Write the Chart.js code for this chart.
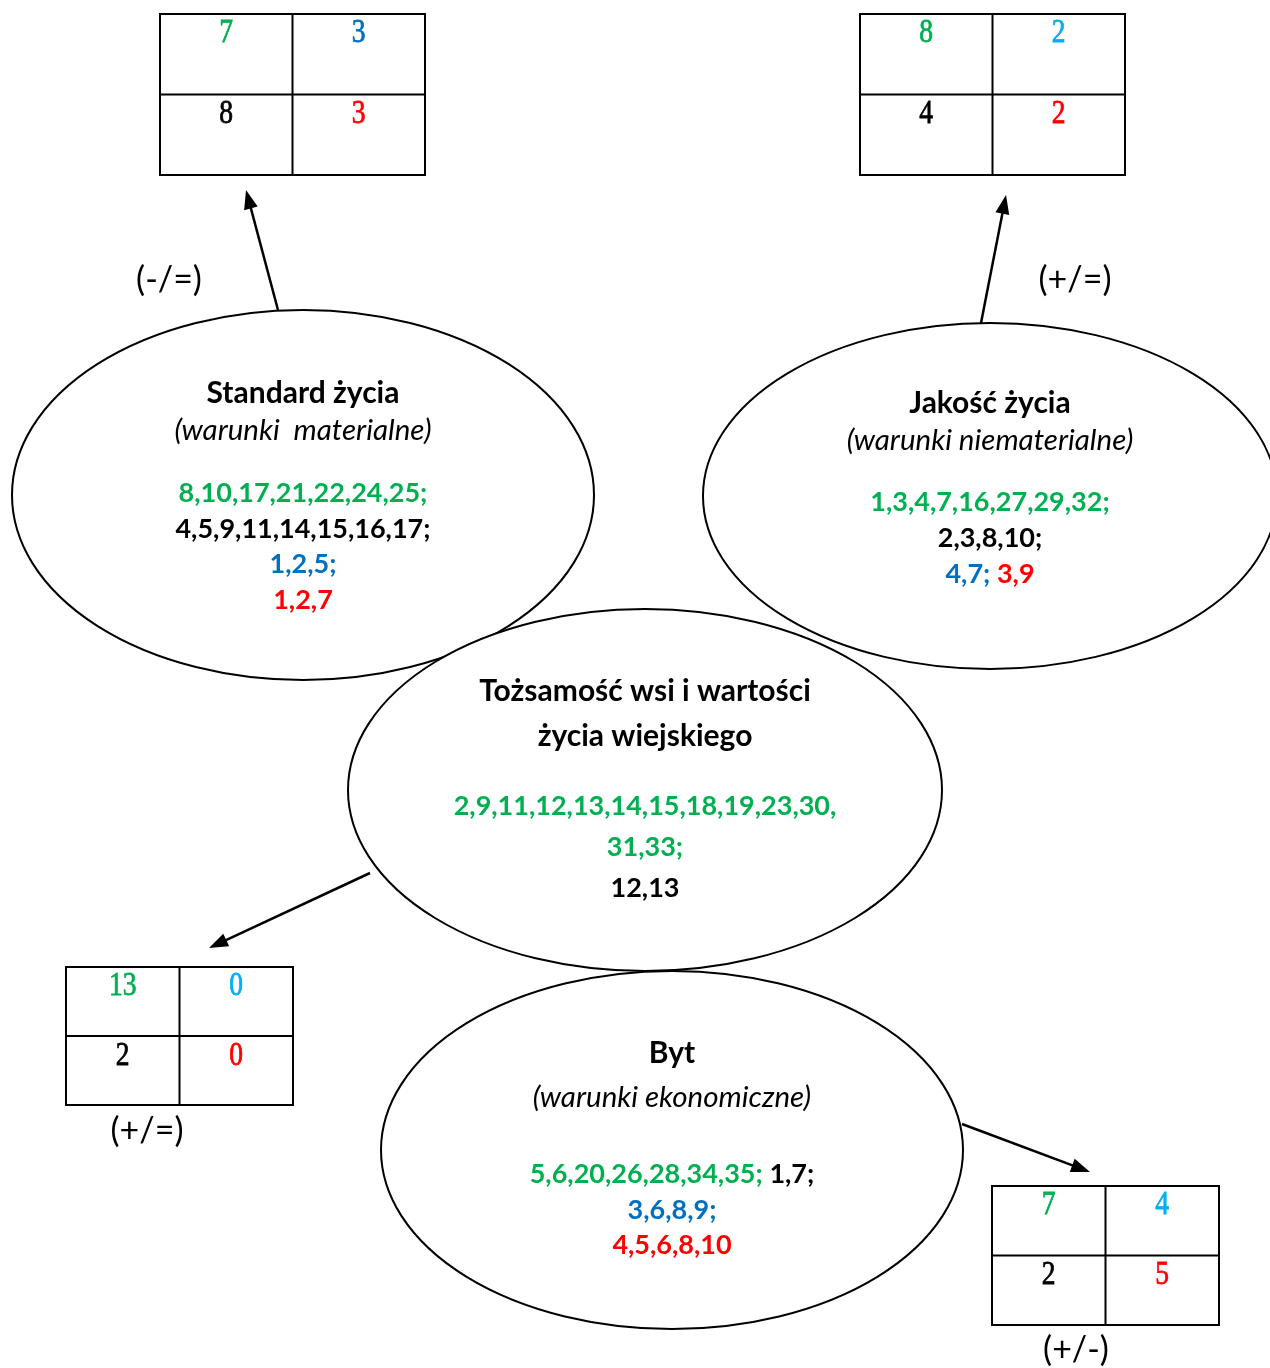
<!DOCTYPE html>
<html>
<head>
<meta charset="utf-8">
<script src="https://cdn.jsdelivr.net/npm/chart.js@4.4.1/dist/chart.umd.min.js"></script>
<style>
  html, body { margin: 0; padding: 0; background: #fff; }
  #wrap { width: 1270px; height: 1368px; }
</style>
</head>
<body>
<div id="wrap"><canvas id="diagram" width="1270" height="1368"></canvas></div>
<script>
// ---- data ----
const tableLabels = ['(-/=)', '(+/=)', '(+/=)', '(+/-)'];
const greenCounts = [7, 8, 13, 7];
const blueCounts = [3, 2, 0, 4];
const blackCounts = [8, 4, 2, 2];
const redCounts = [3, 2, 0, 5];

const areaTitles = [['Standard życia'], ['Jakość życia'], ['Tożsamość wsi i wartości', 'życia wiejskiego'], ['Byt']];
const areaSubtitles = ['(warunki  materialne)', '(warunki niematerialne)', '', '(warunki ekonomiczne)'];
const greenItems = [[8, 10, 17, 21, 22, 24, 25], [1, 3, 4, 7, 16, 27, 29, 32], [2, 9, 11, 12, 13, 14, 15, 18, 19, 23, 30, 31, 33], [5, 6, 20, 26, 28, 34, 35]];
const blackItems = [[4, 5, 9, 11, 14, 15, 16, 17], [2, 3, 8, 10], [12, 13], [1, 7]];
const blueItems = [[1, 2, 5], [4, 7], [], [3, 6, 8, 9]];
const redItems = [[1, 2, 7], [3, 9], [], [4, 5, 6, 8, 10]];

// ---- layout (canvas units) ----
const GREEN = '#00B050', BLUE = '#0070C0', SKY = '#00B0F0', RED = '#FF0000', BLACK = '#000000';
const groupColors = { green: GREEN, black: BLACK, blue: BLUE, red: RED };
const groupOrder = ['green', 'black', 'blue', 'red'];
const groups = { green: greenItems, black: blackItems, blue: blueItems, red: redItems };

const boxes = [
  { x: 160, y: 14, w: 265, h: 161 },
  { x: 860, y: 14, w: 265, h: 161 },
  { x: 66, y: 967, w: 227, h: 138 },
  { x: 992, y: 1186, w: 227, h: 139 }
];
const boxBlue = [BLUE, SKY, SKY, SKY];
const labelPos = [[169, 280], [1075, 280], [147, 1131], [1076, 1350]];
const arrows = [[278, 310, 246, 190], [981, 323, 1006, 195], [370, 873, 209, 948], [962, 1124, 1090, 1172]];
const ellipses = [
  { cx: 303, cy: 495, rx: 291, ry: 185 },
  { cx: 990, cy: 496, rx: 287, ry: 173 },
  { cx: 645, cy: 790, rx: 297, ry: 181 },
  { cx: 672, cy: 1150, rx: 291, ry: 179 }
];
const titleY = [[393], [403], [691, 736], [1053]];
const subtitleY = [430, 440, null, 1097];
// each row: [y, [[group, from, to], ...]]
const listRows = [
  [[493, [['green']]], [529, [['black']]], [564, [['blue']]], [600, [['red']]]],
  [[502, [['green']]], [538, [['black']]], [574, [['blue'], ['red']]]],
  [[806, [['green', 0, 11]]], [847, [['green', 11]]], [888, [['black']]]],
  [[1174, [['green'], ['black']]], [1210, [['blue']]], [1245, [['red']]]]
];

const SANS = 'Lato, "Open Sans", sans-serif';
const SERIF = '"Liberation Serif", "DejaVu Serif", serif';

// cell centres of the four tables, used as scatter points
const cellPoints = [];
boxes.forEach(b => {
  const c1 = b.x + b.w / 4, c2 = b.x + 3 * b.w / 4;
  cellPoints.push({ x: c1, y: b.y + 19 }, { x: c2, y: b.y + 19 },
                  { x: c1, y: b.y + b.h / 2 + 20 }, { x: c2, y: b.y + b.h / 2 + 20 });
});

function segmentText(area, seg) {
  const [g, from, to] = seg;
  const all = groups[g][area];
  const end = to === undefined ? all.length : to;
  let t = all.slice(from || 0, end).join(',');
  if (end < all.length) return t + ',';
  const lastGroup = groupOrder.filter(k => groups[k][area].length).pop();
  return g === lastGroup ? t : t + ';';
}

const diagramPlugin = {
  id: 'diagram',
  afterDatasetsDraw(chart) {
    const ctx = chart.ctx;
    const sx = chart.scales.x, sy = chart.scales.y;
    const px = v => sx.getPixelForValue(v);
    const py = v => sy.getPixelForValue(v);
    ctx.save();

    // ellipses
    ellipses.forEach(e => {
      ctx.beginPath();
      ctx.ellipse(px(e.cx), py(e.cy), Math.abs(px(e.cx + e.rx) - px(e.cx)), Math.abs(py(e.cy + e.ry) - py(e.cy)), 0, 0, Math.PI * 2);
      ctx.fillStyle = '#fff';
      ctx.fill();
      ctx.lineWidth = 2;
      ctx.strokeStyle = BLACK;
      ctx.stroke();
    });

    // arrows
    arrows.forEach(a => {
      const x1 = px(a[0]), y1 = py(a[1]), x2 = px(a[2]), y2 = py(a[3]);
      const ang = Math.atan2(y2 - y1, x2 - x1);
      const len = 19, half = 7;
      ctx.beginPath();
      ctx.moveTo(x1, y1);
      ctx.lineTo(x2 - Math.cos(ang) * len * 0.8, y2 - Math.sin(ang) * len * 0.8);
      ctx.lineWidth = 2.5;
      ctx.strokeStyle = BLACK;
      ctx.stroke();
      ctx.beginPath();
      ctx.moveTo(x2, y2);
      ctx.lineTo(x2 - Math.cos(ang) * len + Math.sin(ang) * half, y2 - Math.sin(ang) * len - Math.cos(ang) * half);
      ctx.lineTo(x2 - Math.cos(ang) * len - Math.sin(ang) * half, y2 - Math.sin(ang) * len + Math.cos(ang) * half);
      ctx.closePath();
      ctx.fillStyle = BLACK;
      ctx.fill();
    });

    // tables
    boxes.forEach(b => {
      ctx.lineWidth = 2;
      ctx.strokeStyle = BLACK;
      ctx.strokeRect(px(b.x), py(b.y), px(b.x + b.w) - px(b.x), py(b.y + b.h) - py(b.y));
      ctx.beginPath();
      ctx.moveTo(px(b.x + b.w / 2), py(b.y));
      ctx.lineTo(px(b.x + b.w / 2), py(b.y + b.h));
      ctx.moveTo(px(b.x), py(b.y + b.h / 2));
      ctx.lineTo(px(b.x + b.w), py(b.y + b.h / 2));
      ctx.stroke();
    });

    // table numbers: the original glyphs are a bit taller than wide
    const pts = chart.getDatasetMeta(0).data;
    ctx.textAlign = 'center';
    ctx.textBaseline = 'middle';
    boxes.forEach((b, i) => {
      const vals = [greenCounts[i], blueCounts[i], blackCounts[i], redCounts[i]];
      const cols = [GREEN, boxBlue[i], BLACK, RED];
      vals.forEach((v, k) => {
        const p = pts[i * 4 + k];
        ctx.save();
        ctx.translate(p.x, p.y);
        ctx.scale(0.92, 1.12);
        ctx.font = '30px ' + SERIF;
        ctx.fillStyle = cols[k];
        ctx.strokeStyle = cols[k];
        ctx.lineWidth = 0.7;
        ctx.fillText(String(v), 0, 0);
        ctx.strokeText(String(v), 0, 0);
        ctx.restore();
      });
    });

    // sign labels
    ctx.font = '34px ' + SANS;
    ctx.fillStyle = BLACK;
    tableLabels.forEach((t, i) => ctx.fillText(t, px(labelPos[i][0]), py(labelPos[i][1])));

    // ellipse texts
    ellipses.forEach((e, a) => {
      const cx = px(e.cx);
      ctx.textAlign = 'center';
      ctx.fillStyle = BLACK;
      ctx.font = 'bold 30px ' + SANS;
      areaTitles[a].forEach((t, r) => ctx.fillText(t, cx, py(titleY[a][r])));
      if (areaSubtitles[a]) {
        ctx.font = 'italic 29.5px ' + SANS;
        ctx.fillText(areaSubtitles[a], cx, py(subtitleY[a]));
      }
      ctx.font = 'bold 27px ' + SANS;
      ctx.textAlign = 'left';
      listRows[a].forEach(([y, segs]) => {
        const texts = segs.map(s => segmentText(a, s));
        const space = ctx.measureText(' ').width;
        const total = texts.reduce((s, t) => s + ctx.measureText(t).width, 0) + space * (texts.length - 1);
        let x = cx - total / 2;
        texts.forEach((t, k) => {
          ctx.fillStyle = groupColors[segs[k][0]];
          ctx.fillText(t, x, py(y));
          x += ctx.measureText(t).width + space;
        });
      });
    });
    ctx.restore();
  }
};

new Chart(document.getElementById('diagram').getContext('2d'), {
  type: 'scatter',
  data: {
    datasets: [{
      label: 'cells',
      data: cellPoints,
      pointRadius: 0,
      pointHoverRadius: 0
    }]
  },
  options: {
    responsive: false,
    animation: false,
    events: [],
    layout: { padding: 0 },
    plugins: { legend: { display: false }, tooltip: { enabled: false } },
    scales: {
      x: { type: 'linear', min: 0, max: 1270, display: false },
      y: { type: 'linear', min: 0, max: 1368, reverse: true, display: false }
    }
  },
  plugins: [diagramPlugin]
});
</script>
</body>
</html>
